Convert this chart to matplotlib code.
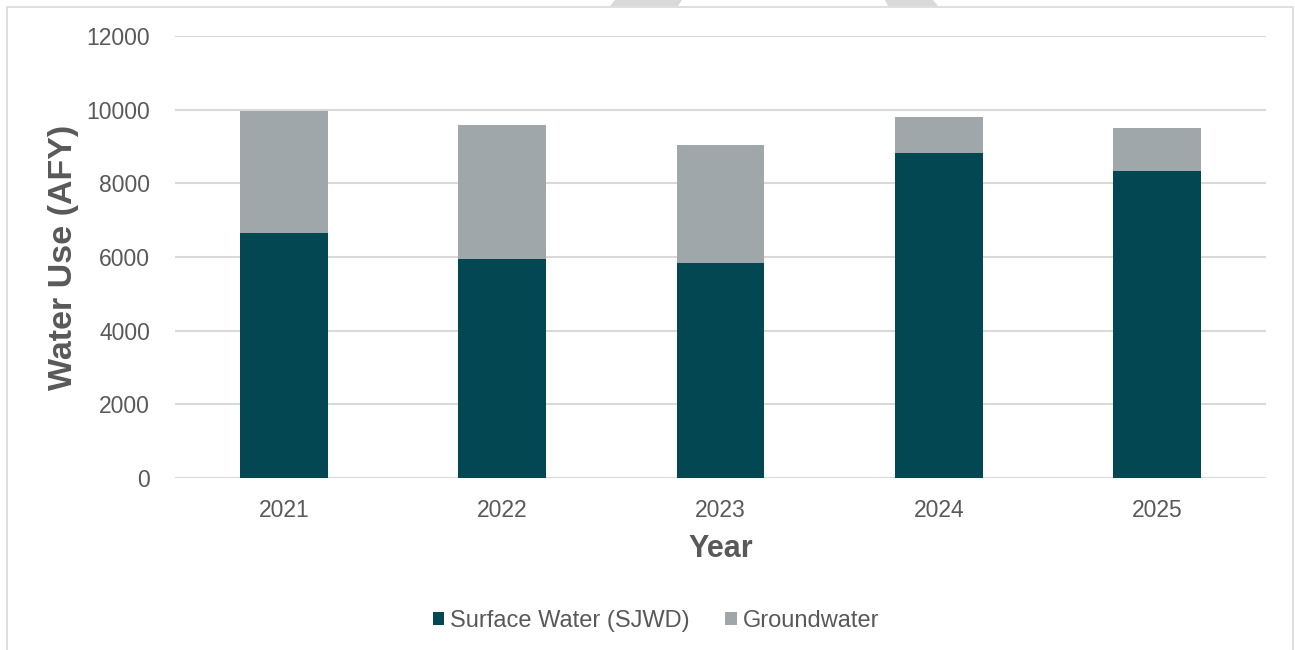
import matplotlib
matplotlib.use("Agg")
import matplotlib.pyplot as plt
from matplotlib.patches import Rectangle, Polygon
import numpy as np

# data
years = ["2021", "2022", "2023", "2024", "2025"]
surface_water = [6645, 5950, 5840, 8830, 8330]
groundwater_total = [9965, 9580, 9040, 9810, 9490]
groundwater = [t - s for t, s in zip(groundwater_total, surface_water)]
series_names = ["Surface Water (SJWD)", "Groundwater"]
y_ticks = [0, 2000, 4000, 6000, 8000, 10000, 12000]

TEAL = "#024751"
GREY = "#A0A7AA"
TEXT = "#595959"
GRID = "#D9D9D9"

plt.rcParams["font.family"] = ["Liberation Sans", "DejaVu Sans"]

W, H = 1295, 650
fig = plt.figure(figsize=(W / 100, H / 100), dpi=100)
fig.patch.set_facecolor("white")

# slide decoration: outer frame and the two grey shapes peeking above it
fig.patches.append(Rectangle((7 / W, -0.05), (1293 - 7) / W, 1 - 7 / H + 0.05,
                             transform=fig.transFigure, fill=False,
                             edgecolor=GRID, linewidth=1.2, zorder=0))
for pts in ([(610, 6), (615, 0), (682, 0), (678, 6)],
            [(888, 6), (885, 0), (933, 0), (938, 6)]):
    fig.patches.append(Polygon([(x / W, 1 - y / H) for x, y in pts], closed=True,
                               transform=fig.transFigure, facecolor=GRID,
                               edgecolor="none", zorder=0))

ax = fig.add_axes([175 / W, 1 - 478 / H, (1266 - 175) / W, (478 - 36) / H])
x = np.arange(len(years))
width = 0.403
b1 = ax.bar(x, surface_water, width, color=TEAL, label=series_names[0], zorder=3)
b2 = ax.bar(x, groundwater, width, bottom=surface_water, color=GREY,
            label=series_names[1], zorder=3)

ax.set_xlim(-0.5, len(years) - 0.5)
ax.set_ylim(0, 12000)
ax.set_yticks(y_ticks)
ax.set_yticklabels([str(t) for t in y_ticks])
ax.set_xticks(x)
ax.set_xticklabels(years)
ax.grid(axis="y", color=GRID, linewidth=1.5, zorder=0)
ax.set_axisbelow(True)
for s in ax.spines.values():
    s.set_visible(False)
ax.tick_params(axis="both", length=0, labelsize=16.5, colors=TEXT)
ax.tick_params(axis="y", pad=18)
ax.tick_params(axis="x", pad=15)

ax.set_ylabel("Water Use (AFY)", fontsize=24.5, fontweight="bold", color=TEXT, labelpad=5)
ax.set_xlabel("Year", fontsize=22, fontweight="bold", color=TEXT, labelpad=9)

fig.legend(handles=[b1, b2], labels=series_names, loc="center",
           bbox_to_anchor=(656 / W, 1 - 621 / H), ncol=2, frameon=False,
           fontsize=17, labelcolor=TEXT, handlelength=0.5, handleheight=0.5,
           handletextpad=0.25, columnspacing=1.5)

fig.savefig("out.png", dpi=100, facecolor="white")
